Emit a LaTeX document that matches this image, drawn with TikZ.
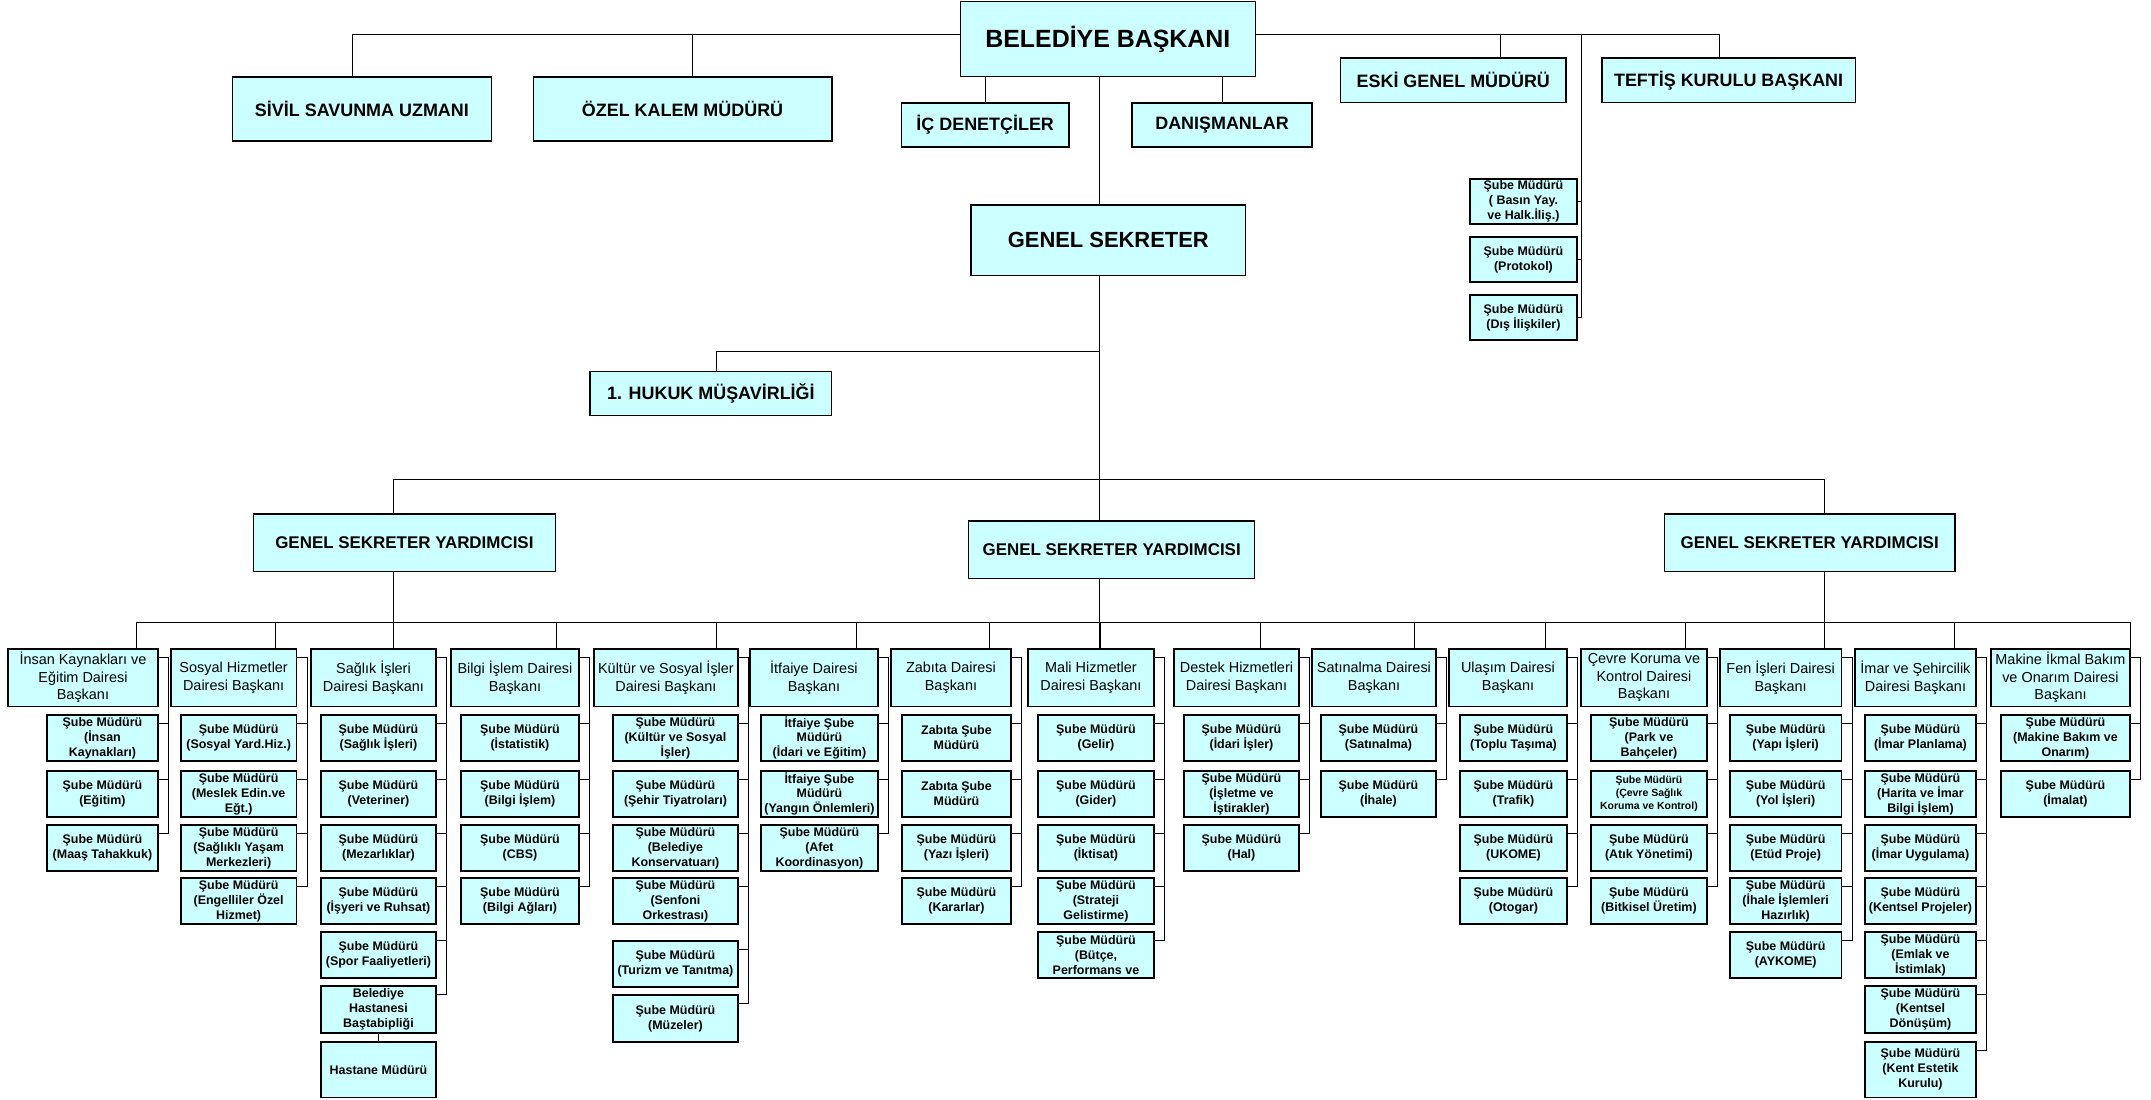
\documentclass[tikz,border=0pt]{standalone}
\usepackage{fontspec}
\setmainfont{Liberation Sans}
\usetikzlibrary{backgrounds}

\definecolor{boxcyan}{HTML}{CCFFFF}

\tikzset{
  orgbox/.style={draw, line width=1.3bp, fill=boxcyan, align=center, inner sep=0pt, anchor=north west},
  chief/.style={orgbox, font=\bfseries\fontsize{18}{21}\selectfont, minimum height=44bp},
  deputy/.style={orgbox, font=\bfseries\fontsize{17}{20}\selectfont, minimum height=57.5bp},
  dept/.style={orgbox, font=\fontsize{14.5}{17.5}\selectfont, minimum height=57.4bp},
  unit/.style={orgbox, font=\bfseries\fontsize{12.5}{15}\selectfont, minimum height=46bp},
  link/.style={line width=1bp}
}

\begin{document}
\begin{tikzpicture}[x=1bp,y=-1bp]

\useasboundingbox (0,0) rectangle (2151,1099);

% bus lines
\coordinate (axis) at (1099,0);
\coordinate (topbus) at (1099,34.3);
\coordinate (hukukbus) at (1099,351.3);
\coordinate (gsybus) at (1099,479.3);
\coordinate (lowbus) at (1099,622.3);

% top level
\node[chief, minimum width=295bp, minimum height=75bp, font=\bfseries\fontsize{25}{30}\selectfont] (baskan) at (959.7,1) {BELEDİYE BAŞKANI};
\node[chief, minimum width=259.5bp, minimum height=64bp] (sivil) at (231.5,76.3) {SİVİL SAVUNMA UZMANI};
\node[chief, minimum width=298.8bp, minimum height=64bp] (ozel) at (532.5,76.3) {ÖZEL KALEM MÜDÜRÜ};
\node[chief, minimum width=167.7bp] (ic) at (900.7,102.3) {İÇ DENETÇİLER};
\node[chief, minimum width=180bp] (danis) at (1131.4,102.3) {DANIŞMANLAR};
\node[chief, minimum width=225.3bp, minimum height=44.7bp] (eski) at (1340,57.3) {ESKİ GENEL MÜDÜRÜ};
\node[chief, minimum width=253.3bp, minimum height=44.7bp] (teftis) at (1601.3,57.3) {TEFTİŞ KURULU BAŞKANI};
\node[unit, minimum width=106.8bp, minimum height=45bp] (pr1) at (1469.4,178.3) {Şube Müdürü\\( Basın Yay.\\ve Halk.İliş.)};
\node[unit, minimum width=106.8bp, minimum height=45bp] (pr2) at (1469.4,236.3) {Şube Müdürü\\(Protokol)};
\node[unit, minimum width=106.8bp, minimum height=45bp] (pr3) at (1469.4,294.3) {Şube Müdürü\\(Dış İlişkiler)};

% secretary general
\node[chief, minimum width=274.5bp, minimum height=70.4bp, font=\bfseries\fontsize{22}{26}\selectfont] (sekreter) at (970.4,204.3) {GENEL SEKRETER};
\node[chief, minimum width=241.8bp] (hukuk) at (589.3,371) {1. HUKUK MÜŞAVİRLİĞİ};
\node[deputy, minimum width=302.5bp] (gsy1) at (252.5,513.3) {GENEL SEKRETER YARDIMCISI};
\node[deputy, minimum width=286bp] (gsy2) at (968,520.3) {GENEL SEKRETER YARDIMCISI};
\node[deputy, minimum width=290.4bp] (gsy3) at (1663.8,513.3) {GENEL SEKRETER YARDIMCISI};

% departments
\node[dept, minimum width=150bp] (c1h) at (7.3,648.3) {İnsan Kaynakları ve\\Eğitim Dairesi\\Başkanı};
\node[dept, minimum width=125.4bp] (c2h) at (170.3,648.3) {Sosyal Hizmetler\\Dairesi Başkanı};
\node[dept, minimum width=125bp] (c3h) at (310.3,648.3) {Sağlık İşleri\\Dairesi Başkanı};
\node[dept, minimum width=128bp] (c4h) at (450.3,648.3) {Bilgi İşlem Dairesi\\Başkanı};
\node[dept, minimum width=144bp] (c5h) at (593.3,648.3) {Kültür ve Sosyal İşler\\Dairesi Başkanı};
\node[dept, minimum width=128bp] (c6h) at (749.3,648.3) {İtfaiye Dairesi\\Başkanı};
\node[dept, minimum width=120bp] (c7h) at (890.3,648.3) {Zabıta Dairesi\\Başkanı};
\node[dept, minimum width=126bp] (c8h) at (1027.3,648.3) {Mali Hizmetler\\Dairesi Başkanı};
\node[dept, minimum width=125bp] (c9h) at (1173.3,648.3) {Destek Hizmetleri\\Dairesi Başkanı};
\node[dept, minimum width=124bp] (c10h) at (1311.3,648.3) {Satınalma Dairesi\\Başkanı};
\node[dept, minimum width=118bp] (c11h) at (1448.3,648.3) {Ulaşım Dairesi\\Başkanı};
\node[dept, minimum width=126bp] (c12h) at (1580.3,648.3) {Çevre Koruma ve\\Kontrol Dairesi\\Başkanı};
\node[dept, minimum width=121.4bp] (c13h) at (1719.3,648.3) {Fen İşleri Dairesi\\Başkanı};
\node[dept, minimum width=121bp] (c14h) at (1854.3,648.3) {İmar ve Şehircilik\\Dairesi Başkanı};
\node[dept, minimum width=139bp] (c15h) at (1990.3,648.3) {Makine İkmal Bakım\\ve Onarım Dairesi\\Başkanı};

% branch offices
\node[unit, minimum width=111bp] (c1s1) at (46.3,714.3) {Şube Müdürü\\(İnsan\\Kaynakları)};
\node[unit, minimum width=111bp] (c1s2) at (46.3,770.3) {Şube Müdürü\\(Eğitim)};
\node[unit, minimum width=111bp] (c1s3) at (46.3,824.3) {Şube Müdürü\\(Maaş Tahakkuk)};

\node[unit, minimum width=115.4bp] (c2s1) at (180.3,714.3) {Şube Müdürü\\(Sosyal Yard.Hiz.)};
\node[unit, minimum width=115.4bp] (c2s2) at (180.3,770.3) {Şube Müdürü\\(Meslek Edin.ve\\Eğt.)};
\node[unit, minimum width=115.4bp] (c2s3) at (180.3,824.3) {Şube Müdürü\\(Sağlıklı Yaşam\\Merkezleri)};
\node[unit, minimum width=115.4bp] (c2s4) at (180.3,877.3) {Şube Müdürü\\(Engelliler Özel\\Hizmet)};

\node[unit, minimum width=115bp] (c3s1) at (320.3,714.3) {Şube Müdürü\\(Sağlık İşleri)};
\node[unit, minimum width=115bp] (c3s2) at (320.3,770.3) {Şube Müdürü\\(Veteriner)};
\node[unit, minimum width=115bp] (c3s3) at (320.3,824.3) {Şube Müdürü\\(Mezarlıklar)};
\node[unit, minimum width=115bp] (c3s4) at (320.3,877.3) {Şube Müdürü\\(İşyeri ve Ruhsat)};
\node[unit, minimum width=115bp] (c3s5) at (320.3,931.3) {Şube Müdürü\\(Spor Faaliyetleri)};
\node[unit, minimum width=115bp, minimum height=47bp] (c3s6) at (320.3,985.3) {Belediye\\Hastanesi\\Baştabipliği};
\node[unit, minimum width=115bp, minimum height=55.4bp] (c3s7) at (320.3,1041.3) {Hastane Müdürü};

\node[unit, minimum width=118bp] (c4s1) at (460.3,714.3) {Şube Müdürü\\(İstatistik)};
\node[unit, minimum width=118bp] (c4s2) at (460.3,770.3) {Şube Müdürü\\(Bilgi İşlem)};
\node[unit, minimum width=118bp] (c4s3) at (460.3,824.3) {Şube Müdürü\\(CBS)};
\node[unit, minimum width=118bp] (c4s4) at (460.3,877.3) {Şube Müdürü\\(Bilgi Ağları)};

\node[unit, minimum width=125bp] (c5s1) at (612.3,714.3) {Şube Müdürü\\(Kültür ve Sosyal\\İşler)};
\node[unit, minimum width=125bp] (c5s2) at (612.3,770.3) {Şube Müdürü\\(Şehir Tiyatroları)};
\node[unit, minimum width=125bp] (c5s3) at (612.3,824.3) {Şube Müdürü\\(Belediye\\Konservatuarı)};
\node[unit, minimum width=125bp] (c5s4) at (612.3,877.3) {Şube Müdürü\\(Senfoni\\Orkestrası)};
\node[unit, minimum width=125bp] (c5s5) at (612.3,940.3) {Şube Müdürü\\(Turizm ve Tanıtma)};
\node[unit, minimum width=125bp, minimum height=47bp] (c5s6) at (612.3,994.3) {Şube Müdürü\\(Müzeler)};

\node[unit, minimum width=117bp] (c6s1) at (760.3,714.3) {İtfaiye Şube\\Müdürü\\(İdari ve Eğitim)};
\node[unit, minimum width=117bp] (c6s2) at (760.3,770.3) {İtfaiye Şube\\Müdürü\\(Yangın Önlemleri)};
\node[unit, minimum width=117bp] (c6s3) at (760.3,824.3) {Şube Müdürü\\(Afet\\Koordinasyon)};

\node[unit, minimum width=109bp] (c7s1) at (901.3,714.3) {Zabıta Şube\\Müdürü};
\node[unit, minimum width=109bp] (c7s2) at (901.3,770.3) {Zabıta Şube\\Müdürü};
\node[unit, minimum width=109bp] (c7s3) at (901.3,824.3) {Şube Müdürü\\(Yazı İşleri)};
\node[unit, minimum width=109bp] (c7s4) at (901.3,877.3) {Şube Müdürü\\(Kararlar)};

\node[unit, minimum width=116bp] (c8s1) at (1037.3,714.3) {Şube Müdürü\\(Gelir)};
\node[unit, minimum width=116bp] (c8s2) at (1037.3,770.3) {Şube Müdürü\\(Gider)};
\node[unit, minimum width=116bp] (c8s3) at (1037.3,824.3) {Şube Müdürü\\(İktisat)};
\node[unit, minimum width=116bp] (c8s4) at (1037.3,877.3) {Şube Müdürü\\(Strateji\\Gelistirme)};
\node[unit, minimum width=116bp] (c8s5) at (1037.3,931.3) {Şube Müdürü\\(Bütçe,\\Performans ve};

\node[unit, minimum width=115bp] (c9s1) at (1183.3,714.3) {Şube Müdürü\\(İdari İşler)};
\node[unit, minimum width=115bp] (c9s2) at (1183.3,770.3) {Şube Müdürü\\(İşletme ve\\İştirakler)};
\node[unit, minimum width=115bp] (c9s3) at (1183.3,824.3) {Şube Müdürü\\(Hal)};

\node[unit, minimum width=115bp] (c10s1) at (1320.3,714.3) {Şube Müdürü\\(Satınalma)};
\node[unit, minimum width=115bp] (c10s2) at (1320.3,770.3) {Şube Müdürü\\(İhale)};

\node[unit, minimum width=107bp] (c11s1) at (1459.3,714.3) {Şube Müdürü\\(Toplu Taşıma)};
\node[unit, minimum width=107bp] (c11s2) at (1459.3,770.3) {Şube Müdürü\\(Trafik)};
\node[unit, minimum width=107bp] (c11s3) at (1459.3,824.3) {Şube Müdürü\\(UKOME)};
\node[unit, minimum width=107bp] (c11s4) at (1459.3,877.3) {Şube Müdürü\\(Otogar)};

\node[unit, minimum width=116bp] (c12s1) at (1590.3,714.3) {Şube Müdürü\\(Park ve\\Bahçeler)};
\node[unit, minimum width=116bp, font=\bfseries\fontsize{10.5}{13}\selectfont] (c12s2) at (1590.3,770.3) {Şube Müdürü\\(Çevre Sağlık\\Koruma ve Kontrol)};
\node[unit, minimum width=116bp] (c12s3) at (1590.3,824.3) {Şube Müdürü\\(Atık Yönetimi)};
\node[unit, minimum width=116bp] (c12s4) at (1590.3,877.3) {Şube Müdürü\\(Bitkisel Üretim)};

\node[unit, minimum width=111.4bp] (c13s1) at (1729.3,714.3) {Şube Müdürü\\(Yapı İşleri)};
\node[unit, minimum width=111.4bp] (c13s2) at (1729.3,770.3) {Şube Müdürü\\(Yol İşleri)};
\node[unit, minimum width=111.4bp] (c13s3) at (1729.3,824.3) {Şube Müdürü\\(Etüd Proje)};
\node[unit, minimum width=111.4bp] (c13s4) at (1729.3,877.3) {Şube Müdürü\\(İhale İşlemleri\\Hazırlık)};
\node[unit, minimum width=111.4bp] (c13s5) at (1729.3,931.3) {Şube Müdürü\\(AYKOME)};

\node[unit, minimum width=111bp] (c14s1) at (1864.3,714.3) {Şube Müdürü\\(İmar Planlama)};
\node[unit, minimum width=111bp] (c14s2) at (1864.3,770.3) {Şube Müdürü\\(Harita ve İmar\\Bilgi İşlem)};
\node[unit, minimum width=111bp] (c14s3) at (1864.3,824.3) {Şube Müdürü\\(İmar Uygulama)};
\node[unit, minimum width=111bp] (c14s4) at (1864.3,877.3) {Şube Müdürü\\(Kentsel Projeler)};
\node[unit, minimum width=111bp] (c14s5) at (1864.3,931.3) {Şube Müdürü\\(Emlak ve\\İstimlak)};
\node[unit, minimum width=111bp, minimum height=47bp] (c14s6) at (1864.3,985.3) {Şube Müdürü\\(Kentsel\\Dönüşüm)};
\node[unit, minimum width=111bp, minimum height=55.4bp] (c14s7) at (1864.3,1041.3) {Şube Müdürü\\(Kent Estetik\\Kurulu)};

\node[unit, minimum width=129bp] (c15s1) at (2000.3,714.3) {Şube Müdürü\\(Makine Bakım ve\\Onarım)};
\node[unit, minimum width=129bp] (c15s2) at (2000.3,770.3) {Şube Müdürü\\(İmalat)};

% connectors
\begin{scope}[on background layer, link]
\draw ([xshift=-10bp]sivil.north) |- (topbus) -| ([xshift=-9bp]teftis.north);
\draw ([xshift=10bp]ozel.north) |- (topbus);
\draw ([xshift=47bp]eski.north) |- (topbus);
\draw (ic.north) -- (ic.north |- baskan.south);
\draw (danis.north) -- (danis.north |- baskan.south);
\draw (pr3.east) -- ++(4,0) |- (topbus);
\draw (pr1.east) -- ++(4,0);
\draw (pr2.east) -- ++(4,0);

\draw (axis |- baskan.south) -- (axis |- c8h.north);
\draw ([xshift=5bp]hukuk.north) |- (hukukbus);
\draw ([xshift=-11.6bp]gsy1.north) |- (gsybus) -| ([xshift=14.4bp]gsy3.north);
\draw ([xshift=-11.6bp]gsy1.south) |- (lowbus);
\draw ([xshift=14.4bp]gsy3.south) |- (lowbus);

\foreach \col/\last/\dx in {1/3/53, 2/4/41.3, 3/6/19.5, 4/4/41, 5/6/50, 6/3/42, 7/4/38, 8/5/9,
    9/3/23.5, 10/2/40, 11/4/37, 12/4/41, 13/5/43.3, 14/7/38.5, 15/2/69.5}{
  \draw ([xshift=\dx bp]c\col h.north) |- (lowbus);
  \draw ([yshift=-9bp]c\col h.north east) -- ++(10,0) |- ([yshift=-9bp]c\col s\last.north east);
  \foreach \row in {1,...,\last}
    \draw ([yshift=-9bp]c\col s\row.north east) -- ++(10,0);
}
\draw (c3s6.south) -- (c3s7.north);
\end{scope}

\end{tikzpicture}
\end{document}
